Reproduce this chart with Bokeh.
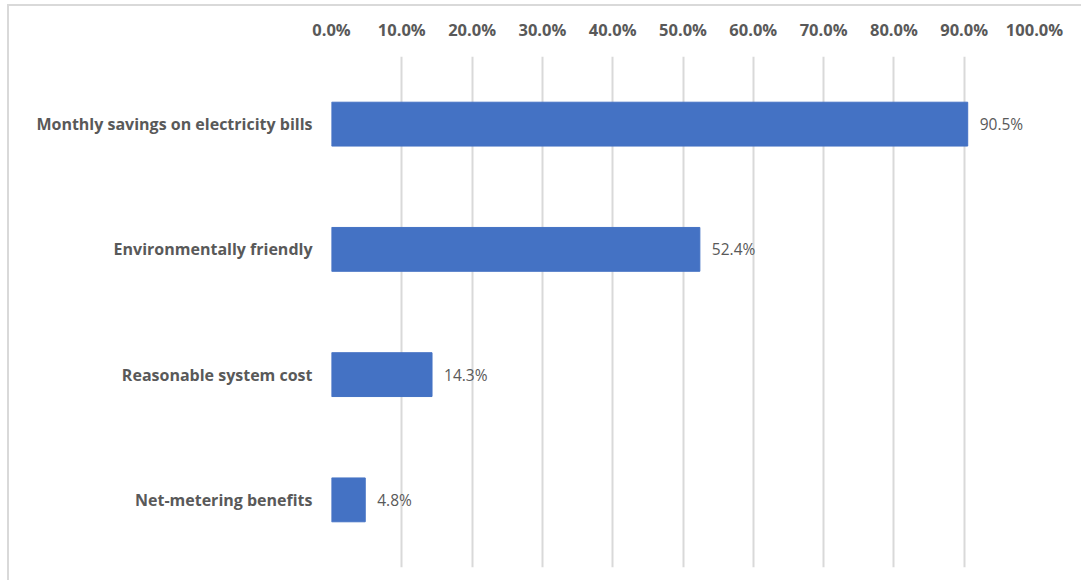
from bokeh.plotting import figure
from bokeh.models import FactorRange, Range1d, FixedTicker, NumeralTickFormatter, LinearAxis, ColumnDataSource
from bokeh.core.properties import value
from bokeh.embed import file_html
from bokeh.resources import INLINE

categories = ["Monthly savings on electricity bills", "Environmentally friendly",
              "Reasonable system cost", "Net-metering benefits"]
values = [0.905, 0.524, 0.143, 0.048]
labels = ["90.5%", "52.4%", "14.3%", "4.8%"]
ticks = [0.0, 0.1, 0.2, 0.3, 0.4, 0.5, 0.6, 0.7, 0.8, 0.9, 1.0]

FONT = "Open Sans"
GREY = "#595959"

src = ColumnDataSource(dict(cat=categories, val=values, lab=labels))

p = figure(width=1074, height=576, output_backend="svg", toolbar_location=None,
           y_range=FactorRange(factors=list(reversed(categories)), range_padding=0.02),
           x_range=Range1d(0, 1.0), x_axis_location=None,
           min_border_left=322, min_border_right=49, min_border_top=50, min_border_bottom=15)

p.hbar(y="cat", right="val", left=0, height=0.35, source=src, color="#4472C4")
p.text(x="val", y="cat", text="lab", source=src, x_offset=12, text_align="left",
       text_baseline="middle", text_font=value(FONT), text_font_size="15.5px", text_color=GREY)

top = LinearAxis(ticker=FixedTicker(ticks=ticks), formatter=NumeralTickFormatter(format="0.0%"))
top.axis_line_color = None
top.major_tick_line_color = None
top.minor_tick_line_color = None
top.major_label_text_font = FONT
top.major_label_text_font_style = "bold"
top.major_label_text_font_size = "16.5px"
top.major_label_text_color = GREY
top.major_label_standoff = 10
p.add_layout(top, "above")

ya = p.yaxis[0]
ya.axis_line_color = None
ya.major_tick_line_color = None
ya.minor_tick_line_color = None
ya.major_label_text_font = FONT
ya.major_label_text_font_style = "bold"
ya.major_label_text_font_size = "16px"
ya.major_label_text_color = GREY
ya.major_label_standoff = 13

p.xgrid.ticker = FixedTicker(ticks=ticks)
p.xgrid.grid_line_color = "#d9d9d9"
p.xgrid.grid_line_width = 2
p.ygrid.grid_line_color = None
p.outline_line_color = None
p.styles = {"margin-left": "7px", "margin-top": "4px",
            "border-left": "2px solid #d9d9d9", "border-top": "2px solid #d9d9d9"}

open("out.html", "w").write(file_html(p, INLINE))
